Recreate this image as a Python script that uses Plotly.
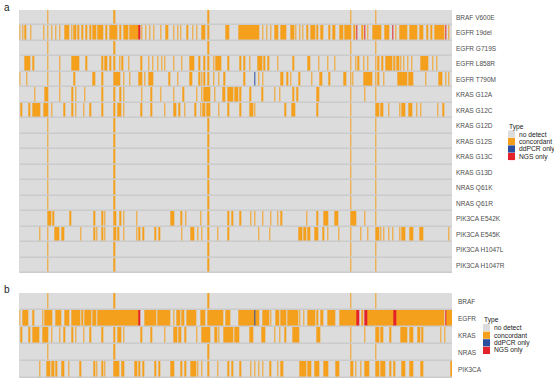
import plotly.graph_objects as go

N_SAMPLES = 326
TYPES = ["no detect", "concordant", "ddPCR only", "NGS only"]
COLORS = ["#DCDCDC", "#F5A01C", "#2A4F9F", "#E4222A"]

ROWS_A = ["BRAF V600E", "EGFR 19del", "EGFR G719S", "EGFR L858R", "EGFR T790M",
          "KRAS G12A", "KRAS G12C", "KRAS G12D", "KRAS G12S", "KRAS G13C",
          "KRAS G13D", "NRAS Q61K", "NRAS Q61R", "PIK3CA E542K", "PIK3CA E545K",
          "PIK3CA H1047L", "PIK3CA H1047R"]
ROWS_B = ["BRAF", "EGFR", "KRAS", "NRAS", "PIK3CA"]

# samples positive for every assay (control samples)
ALL_POSITIVE = [21, 71, 142, 249, 268]

# concordant calls per row (single sample index or (first, last) run)
EGFR_19DEL = [0, 2, 4, 8, 18, 24, 27, 30, (34, 37), 39, (41, 42), 44, 47, 50, 53, (55, 57),
              (59, 62), 65, (68, 73), (75, 76), (78, 81), (83, 89), 92, 95, 98, 101, 106,
              (110, 111), 116, 119, 121, 126, 130, 133, (137, 139), (155, 157), (165, 170),
              (171, 180), 183, 186, 189, (192, 194), (197, 200), (204, 206), 208, 211, 213,
              (216, 217), (219, 222), 224, (227, 228), 233, (236, 237), (241, 243), (245, 249),
              252, 258, 262, (266, 272), (275, 278), 283, (286, 291), (294, 299), (301, 303),
              307, 310, (313, 319), 323]
EGFR_19DEL_NGS = [90, 254, 260, 281, 321]
EGFR_L858R = [(4, 7), 10, 30, (39, 44), 50, 62, (64, 65), 68, 75, 77, 82, (91, 92), 97, 100,
              104, 107, 109, 116, 122, (128, 131), 135, 139, 146, (148, 149), (150, 151), 157,
              166, 169, 173, (179, 182), 184, 187, 194, 206, (217, 218), 225, 232, 237, 253,
              255, 259, 262, 270, 273, (276, 280), 282, (284, 285), 287, 289, 292, 295,
              (302, 307), 311, 314]
EGFR_T790M = [0, 5, 30, 41, (55, 56), 62, (71, 72), (73, 75), 78, 83, (90, 92), 94, (97, 100),
              (112, 113), 119, (128, 129), 135, 137, 139, 146, 150, 154, 169, 180, 183,
              (197, 198), (201, 202), 204, (210, 211), 220, (226, 227), 233, (244, 245), 251,
              (259, 265), 270, 274, (285, 291), (293, 296), 306, (316, 318), 321, 323]
EGFR_T790M_DDPCR = [177]
KRAS_G12A = [11, (19, 21), 30, (39, 40), 42, 49, 62, (75, 76), 78, 92, 99, 106, 116, 123, 133,
             137, (139, 143), 147, (153, 154), (157, 160), (162, 164), 166, (173, 174),
             (182, 183), 192, 196, 206, 209, (224, 225), 260]
KRAS_G12C = [1, 7, (10, 15), (18, 21), 24, (33, 34), (39, 40), 42, 48, 53, 62, 71, (74, 76),
             78, (91, 92), 99, 109, (116, 117), 120, 124, 132, 136, (138, 139), (141, 143),
             150, 157, 166, (173, 175), 177, 200, (205, 207), 224, (268, 270), (272, 273), 278,
             286, (288, 290), (293, 295), 299, 302, 315, 319]
PIK3CA_E542K = [(21, 23), 25, 38, 56, 62, 64, (71, 72), (75, 76), 78, 88, (114, 116), (121, 122),
                125, 136, 157, 160, 166, 174, 177, 183, 189, 194, 197, 216, 224, (229, 232),
                (237, 239), (249, 251), (252, 253), 260]
PIK3CA_E545K = [15, (26, 27), (28, 29), (32, 33), 46, 56, 58, 62, 64, (71, 72), 74, 78, 88, 90,
                93, 102, 105, 122, (129, 131), 134, 137, 149, 157, 180, 188, (210, 212),
                (214, 215), (217, 218), (222, 224), (228, 229), 232, 240, 257, 262, (268, 270),
                272, 274, 278, 281, 286, (288, 290), (294, 296), (301, 303), 323]

# gene-level panel (b)
GENE_EGFR = [0, (2, 6), 10, 17, (19, 21), (22, 24), (27, 28), (29, 31), (34, 37), (39, 45), 47,
             (49, 53), (55, 57), (59, 77), (78, 89), (94, 102), 104, (105, 109), (110, 113), 116,
             (118, 120), (122, 123), (126, 132), (136, 139), (142, 146), (147, 149), (150, 153),
             (155, 158), (165, 176), (178, 180), (183, 187), 189, (193, 195), (197, 200),
             (202, 209), 211, 214, (217, 222), 224, (227, 228), (232, 237), (241, 250),
             (251, 253), 258, (262, 273), (274, 281), (284, 299), (300, 319), (322, 325)]
GENE_EGFR_NGS = [90, (254, 255), (260, 261), (282, 283), 321]
GENE_EGFR_DDPCR = [177]
GENE_KRAS = [1, 7, (10, 14), (17, 21), 24, 30, (33, 34), (39, 40), 42, 48, 53, 62, (74, 76), 78,
             (91, 92), 99, 109, (116, 118), (120, 121), (124, 125), 133, 137, (138, 143),
             (147, 148), 150, (154, 156), (157, 160), (162, 165), (173, 175), (182, 184), 192,
             196, 200, (206, 210), (224, 226), 260, (268, 270), (272, 273), 279, (287, 289),
             (290, 291), (294, 296), (300, 301), 303, 317, 320]
GENE_PIK3CA = [15, (20, 22), (24, 25), (27, 28), (32, 33), 37, (45, 46), 56, 58, 62, 64,
               (71, 72), (73, 74), (77, 78), (87, 88), 90, 93, 102, 105, (114, 116), (121, 122),
               (124, 125), (129, 132), 134, 137, 149, 157, 160, 166, 174, 177, 180, 183,
               (188, 189), 194, (197, 198), (211, 213), (214, 215), (217, 219), (222, 225),
               (229, 232), (238, 240), (249, 251), 253, 257, (260, 261), (262, 263), (268, 270),
               (272, 273), (274, 275), 279, 282, (288, 290), (294, 296), (302, 303), 325]


def expand(runs):
    out = []
    for r in runs:
        if isinstance(r, tuple):
            out.extend(range(r[0], r[1] + 1))
        else:
            out.append(r)
    return out


def make_row(conc=(), ddpcr=(), ngs=()):
    row = [0] * N_SAMPLES
    for i in ALL_POSITIVE + expand(conc):
        row[i] = 1
    for i in expand(ddpcr):
        row[i] = 2
    for i in expand(ngs):
        row[i] = 3
    return row


z_a = [make_row() for _ in ROWS_A]
z_a[1] = make_row(EGFR_19DEL, ngs=EGFR_19DEL_NGS)
z_a[3] = make_row(EGFR_L858R)
z_a[4] = make_row(EGFR_T790M, ddpcr=EGFR_T790M_DDPCR)
z_a[5] = make_row(KRAS_G12A)
z_a[6] = make_row(KRAS_G12C)
z_a[13] = make_row(PIK3CA_E542K)
z_a[14] = make_row(PIK3CA_E545K)

z_b = [make_row(),
       make_row(GENE_EGFR, ddpcr=GENE_EGFR_DDPCR, ngs=GENE_EGFR_NGS),
       make_row(GENE_KRAS),
       make_row(),
       make_row(GENE_PIK3CA)]

W, H = 554, 379
def px(x):
    return x / W
def py(y):
    return 1 - y / H

colorscale = []
for k, c in enumerate(COLORS):
    colorscale.append([k / 4, c])
    colorscale.append([(k + 1) / 4, c])

fig = go.Figure()
samples = list(range(N_SAMPLES))
fig.add_trace(go.Heatmap(z=z_a, x=samples, y=ROWS_A, zmin=-0.5, zmax=3.5,
                         colorscale=colorscale, showscale=False, ygap=1.5,
                         hoverinfo="skip", xaxis="x", yaxis="y"))
fig.add_trace(go.Heatmap(z=z_b, x=samples, y=ROWS_B, zmin=-0.5, zmax=3.5,
                         colorscale=colorscale, showscale=False, ygap=1.5,
                         hoverinfo="skip", xaxis="x2", yaxis="y2"))

xdom = [px(19.3), px(452)]
label_font = dict(family="Liberation Sans, Arial, sans-serif", size=6.5, color="#4D4D4D")
common_x = dict(range=[-0.5, N_SAMPLES - 0.5], showticklabels=False, showgrid=False,
                zeroline=False, ticks="", domain=xdom, fixedrange=True)
fig.update_layout(
    width=W, height=H, margin=dict(l=0, r=0, t=0, b=0),
    paper_bgcolor="white", plot_bgcolor="#CBCBCB",
    xaxis=dict(**common_x, anchor="y"),
    xaxis2=dict(**common_x, anchor="y2"),
    yaxis=dict(domain=[py(273), py(10)], side="right", anchor="x", autorange="reversed",
               type="category", showgrid=False, zeroline=False, ticks="",
               ticklabelstandoff=3, tickfont=label_font, fixedrange=True),
    yaxis2=dict(domain=[py(378), py(293)], side="right", anchor="x2", autorange="reversed",
                type="category", showgrid=False, zeroline=False, ticks="",
                ticklabelstandoff=5, tickfont=label_font, fixedrange=True),
    showlegend=False,
)

annotations = [
    dict(text="a", x=px(1.5), y=py(7.5), xanchor="left", yanchor="middle",
         font=dict(family="Liberation Sans, Arial, sans-serif", size=10, color="#222222")),
    dict(text="b", x=px(1.5), y=py(289), xanchor="left", yanchor="middle",
         font=dict(family="Liberation Sans, Arial, sans-serif", size=10, color="#222222")),
]
shapes = []
legend_font = dict(family="Liberation Sans, Arial, sans-serif", size=6.7, color="#222222")
for (lx, ty, step) in [(508, 126.5, 7.5), (483, 320, 7.6)]:
    annotations.append(dict(text="Type", x=px(lx - 1), y=py(ty), xanchor="left", yanchor="middle",
                            font=legend_font))
    for k, (name, col) in enumerate(zip(TYPES, COLORS)):
        cy = ty + step * (k + 1)
        shapes.append(dict(type="rect", xref="paper", yref="paper",
                           x0=px(lx), x1=px(lx + 7), y0=py(cy - 3.6), y1=py(cy + 3.6),
                           fillcolor=col, line=dict(width=0)))
        annotations.append(dict(text=name, x=px(lx + 8.5), y=py(cy), xanchor="left",
                                yanchor="middle", font=legend_font))
for a in annotations:
    a.update(xref="paper", yref="paper", showarrow=False)
fig.update_layout(annotations=annotations, shapes=shapes)

fig.write_html("out.html", config={"displayModeBar": False, "staticPlot": True},
               post_script="document.body.style.margin='0';document.body.style.overflow='hidden';")
